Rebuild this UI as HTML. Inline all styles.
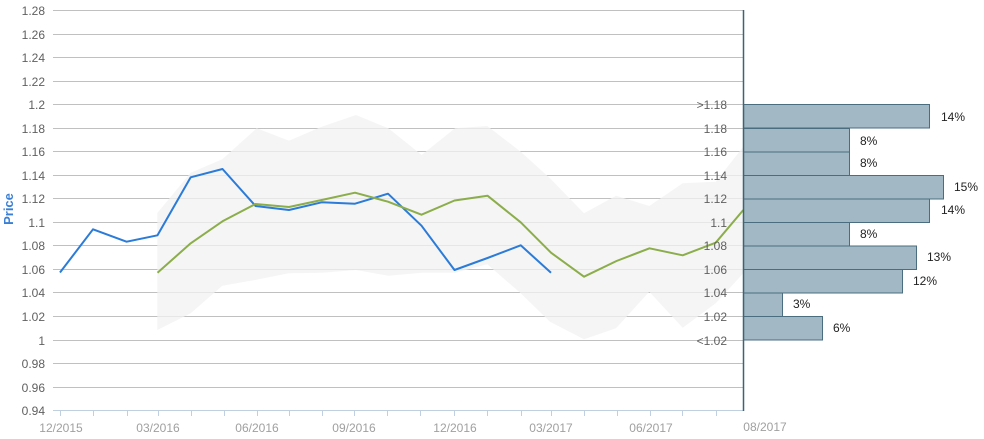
<!DOCTYPE html>
<html><head><meta charset="utf-8"><style>
html,body{margin:0;padding:0;background:#fff;}
svg{display:block;font-family:"Liberation Sans",Arial,sans-serif;}
</style></head><body>
<svg width="984" height="439" viewBox="0 0 984 439" xmlns="http://www.w3.org/2000/svg">
<g stroke="#c0c0c0" stroke-width="1" shape-rendering="crispEdges">
<line x1="53" x2="743" y1="10.5" y2="10.5"/>
<line x1="53" x2="743" y1="34.5" y2="34.5"/>
<line x1="53" x2="743" y1="57.5" y2="57.5"/>
<line x1="53" x2="743" y1="81.5" y2="81.5"/>
<line x1="53" x2="743" y1="104.5" y2="104.5"/>
<line x1="53" x2="743" y1="128.5" y2="128.5"/>
<line x1="53" x2="743" y1="151.5" y2="151.5"/>
<line x1="53" x2="743" y1="175.5" y2="175.5"/>
<line x1="53" x2="743" y1="198.5" y2="198.5"/>
<line x1="53" x2="743" y1="222.5" y2="222.5"/>
<line x1="53" x2="743" y1="245.5" y2="245.5"/>
<line x1="53" x2="743" y1="269.5" y2="269.5"/>
<line x1="53" x2="743" y1="292.5" y2="292.5"/>
<line x1="53" x2="743" y1="316.5" y2="316.5"/>
<line x1="53" x2="743" y1="340.5" y2="340.5"/>
<line x1="53" x2="743" y1="363.5" y2="363.5"/>
<line x1="53" x2="743" y1="387.5" y2="387.5"/>
</g>
<polygon fill="#f2f2f2" fill-opacity="0.76" points="157.3,213 190.7,172.7 222.3,159.3 256.7,128.3 289,140.7 321.7,126.7 356,115 388.3,128.3 421.7,155 455,128.3 487.3,126 520.7,151.7 550,178.3 584,213.3 616,195.7 649.3,206 682.7,183.3 715.7,181.7 743.3,146.7 743.3,273.3 715.7,303.3 682.7,327.7 649.3,291.7 616,328.3 584,339.3 550,321.7 520.7,293.3 487.3,264.3 455,272.7 421.7,272.7 388.3,275.7 356,270 321.7,272.7 289,273.3 255,280 222.3,285.7 190.7,313.3 157.3,330"/>
<!-- x axis -->
<line x1="53" x2="743" y1="410.5" y2="410.5" stroke="#c0d0e0" stroke-width="1" shape-rendering="crispEdges"/>
<g stroke="#c0d0e0" stroke-width="1" shape-rendering="crispEdges">
<line x1="60.5" x2="60.5" y1="411" y2="416"/>
<line x1="93.5" x2="93.5" y1="411" y2="416"/>
<line x1="127.5" x2="127.5" y1="411" y2="416"/>
<line x1="158.5" x2="158.5" y1="411" y2="416"/>
<line x1="191.5" x2="191.5" y1="411" y2="416"/>
<line x1="224.5" x2="224.5" y1="411" y2="416"/>
<line x1="257.5" x2="257.5" y1="411" y2="416"/>
<line x1="289.5" x2="289.5" y1="411" y2="416"/>
<line x1="322.5" x2="322.5" y1="411" y2="416"/>
<line x1="354.5" x2="354.5" y1="411" y2="416"/>
<line x1="387.5" x2="387.5" y1="411" y2="416"/>
<line x1="420.5" x2="420.5" y1="411" y2="416"/>
<line x1="454.5" x2="454.5" y1="411" y2="416"/>
<line x1="487.5" x2="487.5" y1="411" y2="416"/>
<line x1="521.5" x2="521.5" y1="411" y2="416"/>
<line x1="551.5" x2="551.5" y1="411" y2="416"/>
<line x1="584.5" x2="584.5" y1="411" y2="416"/>
<line x1="617.5" x2="617.5" y1="411" y2="416"/>
<line x1="650.5" x2="650.5" y1="411" y2="416"/>
<line x1="682.5" x2="682.5" y1="411" y2="416"/>
<line x1="716.5" x2="716.5" y1="411" y2="416"/>
</g>
<g fill="#a0a0a0" font-size="12" text-anchor="middle">
<text x="61" y="432">12/2015</text>
<text x="158" y="432">03/2016</text>
<text x="257" y="432">06/2016</text>
<text x="354" y="432">09/2016</text>
<text x="455" y="432">12/2016</text>
<text x="551" y="432">03/2017</text>
<text x="651" y="432">06/2017</text>
<text x="765" y="431">08/2017</text>
</g>
<!-- y labels -->
<g fill="#606060" font-size="12" text-anchor="end">
<text x="45" y="15">1.28</text>
<text x="45" y="39">1.26</text>
<text x="45" y="62">1.24</text>
<text x="45" y="86">1.22</text>
<text x="45" y="109">1.2</text>
<text x="45" y="133">1.18</text>
<text x="45" y="156">1.16</text>
<text x="45" y="180">1.14</text>
<text x="45" y="203">1.12</text>
<text x="45" y="227">1.1</text>
<text x="45" y="250">1.08</text>
<text x="45" y="274">1.06</text>
<text x="45" y="297">1.04</text>
<text x="45" y="321">1.02</text>
<text x="45" y="345">1</text>
<text x="45" y="368">0.98</text>
<text x="45" y="392">0.96</text>
<text x="45" y="415">0.94</text>
</g>
<text transform="translate(13,209) rotate(-90)" fill="#3a7fd5" font-size="13" font-weight="bold" text-anchor="middle">Price</text>
<!-- series -->
<polyline fill="none" stroke="#2b7bd8" stroke-width="2" stroke-linejoin="round" points="60,272.5 93,229.3 126.5,241.7 157.5,235.3 190.7,177.3 222.5,169 255.5,206 289,210 321.7,202.3 355,203.7 388,193.7 421.5,225.7 454.5,270 487.5,258 520.7,245.3 551,272.7"/>
<polyline fill="none" stroke="#8bad4a" stroke-width="2" stroke-linejoin="round" points="157.5,272.7 190.7,243.3 222.5,221.3 255.5,204 289,207 321.7,200 355,192.7 388,201.7 421.5,214.7 454.5,200.5 487.5,195.7 520.7,222.3 551,252.7 584,276.7 616.5,261 649.5,248.3 682.7,255.3 715.7,242.7 743.3,210"/>
<!-- histogram labels -->
<g fill="#606060" font-size="12" text-anchor="end">
<text x="727" y="109">&gt;1.18</text>
<text x="727" y="133">1.18</text>
<text x="727" y="156">1.16</text>
<text x="727" y="180">1.14</text>
<text x="727" y="203">1.12</text>
<text x="727" y="227">1.1</text>
<text x="727" y="250">1.08</text>
<text x="727" y="274">1.06</text>
<text x="727" y="297">1.04</text>
<text x="727" y="321">1.02</text>
<text x="727" y="345">&lt;1.02</text>
</g>
<!-- bars -->
<g fill="#a2b8c5" stroke="#4a6e80" stroke-width="1" shape-rendering="crispEdges">
<rect x="743.5" y="104.5" width="186" height="23.5"/>
<rect x="743.5" y="128.5" width="106" height="23.5"/>
<rect x="743.5" y="152" width="106" height="23.5"/>
<rect x="743.5" y="175.5" width="200" height="23.5"/>
<rect x="743.5" y="199" width="186" height="23.5"/>
<rect x="743.5" y="222.5" width="106" height="23.5"/>
<rect x="743.5" y="246" width="173" height="23.5"/>
<rect x="743.5" y="269.5" width="159" height="23.5"/>
<rect x="743.5" y="293" width="39" height="23.5"/>
<rect x="743.5" y="316.5" width="79" height="23.5"/>
</g>
<line x1="743.5" x2="743.5" y1="10" y2="411" stroke="#3d6475" stroke-width="1.5"/>
<g fill="#222" font-size="12">
<text x="941" y="121">14%</text>
<text x="860" y="145">8%</text>
<text x="860" y="167">8%</text>
<text x="954" y="191">15%</text>
<text x="941" y="214">14%</text>
<text x="860" y="238">8%</text>
<text x="927" y="261">13%</text>
<text x="913" y="285">12%</text>
<text x="793" y="308">3%</text>
<text x="833" y="332">6%</text>
</g>
</svg>
</body></html>
